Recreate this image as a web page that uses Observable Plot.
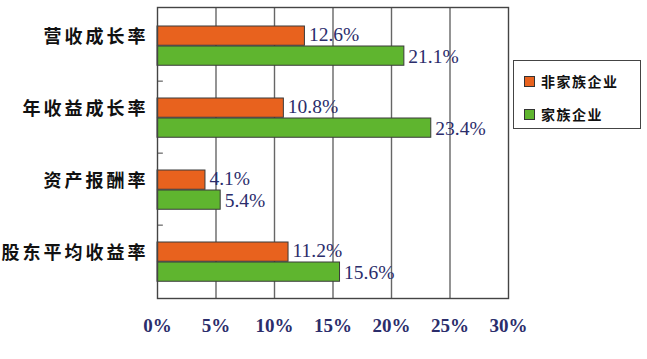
<!DOCTYPE html>
<html><head><meta charset="utf-8">
<script src="https://cdn.jsdelivr.net/npm/d3@7"></script>
<script src="https://cdn.jsdelivr.net/npm/@observablehq/plot@0.6"></script>
<style>
body{margin:0;background:#fff;}
#wrap{position:relative;width:647px;height:359px;}
#legend{position:absolute;left:513px;top:60px;width:126px;height:67px;border:1.5px solid #444;font-family:"Noto Sans CJK SC",sans-serif;font-size:14px;font-weight:bold;color:#111;}
.li{position:absolute;left:10px;display:flex;align-items:center;}
.sw{width:9px;height:9px;border:1px solid #333;margin-right:6px;}
[aria-label="y-axis tick label"] text{letter-spacing:3px;}
</style>
</head><body><div id="wrap"><div id="legend"></div></div>
<script>
const categories = ["营收成长率","年收益成长率","资产报酬率","股东平均收益率"];
const seriesNames = ["非家族企业","家族企业"];
const nonFamily = [12.6, 10.8, 4.1, 11.2];
const family = [21.1, 23.4, 5.4, 15.6];
const xTicks = [0,5,10,15,20,25,30];
const colors = ["#E8621E","#5FB52F"];

const rows = [];
categories.forEach((c,i)=>{
  rows.push({cat:c, s:seriesNames[0], v:nonFamily[i]});
  rows.push({cat:c, s:seriesNames[1], v:family[i]});
});
const mTop=7, mBottom=61, H=359;
const band=(H-mTop-mBottom)/categories.length;
const off0=17, bh=20; // bar offsets within band
const orange = rows.filter(d=>d.s===seriesNames[0]);
const green = rows.filter(d=>d.s===seriesNames[1]);
const labelStyle = {fill:"#2b2d6b", fontFamily:"Liberation Serif", fontSize:19.5, textAnchor:"start", dx:4};

const chart = Plot.plot({
  width:647, height:H,
  marginTop:mTop, marginBottom:mBottom, marginLeft:157, marginRight:139,
  style:{fontFamily:"Noto Sans CJK SC", background:"transparent"},
  x:{domain:[0,30], ticks:xTicks},
  y:{domain:categories, padding:0},
  marks:[
    Plot.ruleX([5,10,15,20,25], {stroke:"#666", strokeWidth:1.4}),
    Plot.barX(orange, {x:"v", y:"cat", fill:colors[0], stroke:"#3a3a3a", strokeWidth:1, insetTop:off0, insetBottom:band-off0-bh}),
    Plot.barX(green, {x:"v", y:"cat", fill:colors[1], stroke:"#3a3a3a", strokeWidth:1, insetTop:off0+bh, insetBottom:band-off0-2*bh}),
    Plot.text(orange, {x:"v", y:"cat", text:d=>d.v.toFixed(1)+"%", dy:off0+bh/2-band/2 - 1, ...labelStyle}),
    Plot.text(green, {x:"v", y:"cat", text:d=>d.v.toFixed(1)+"%", dy:off0+1.5*bh-band/2 + 1, ...labelStyle}),
    Plot.ruleY(categories.slice(1), {y:d=>d, dy:-band/2, x1:0, x2:0.5, stroke:"#444"}),
    Plot.frame({stroke:"#444", strokeWidth:1.4}),
    Plot.axisX({ticks:xTicks, tickFormat:d=>d+"%", tickSize:0, tickPadding:20, fontSize:19, fontWeight:"bold", fontFamily:"Liberation Serif", fill:"#2b2d6b", label:null}),
    Plot.axisY({tickSize:0, tickPadding:9, fontSize:18, fontWeight:"bold", dy:-8, fill:"#111", label:null})
  ]
});
document.getElementById("wrap").prepend(chart);
const lg=document.getElementById("legend");
seriesNames.forEach((n,i)=>{
  const d=document.createElement("div");d.className="li";
  d.style.top=(i===0?10:43)+"px";
  d.innerHTML=`<span class="sw" style="background:${colors[i]}"></span><span style="letter-spacing:1.5px">${n}</span>`;
  lg.appendChild(d);
});
</script></body></html>
